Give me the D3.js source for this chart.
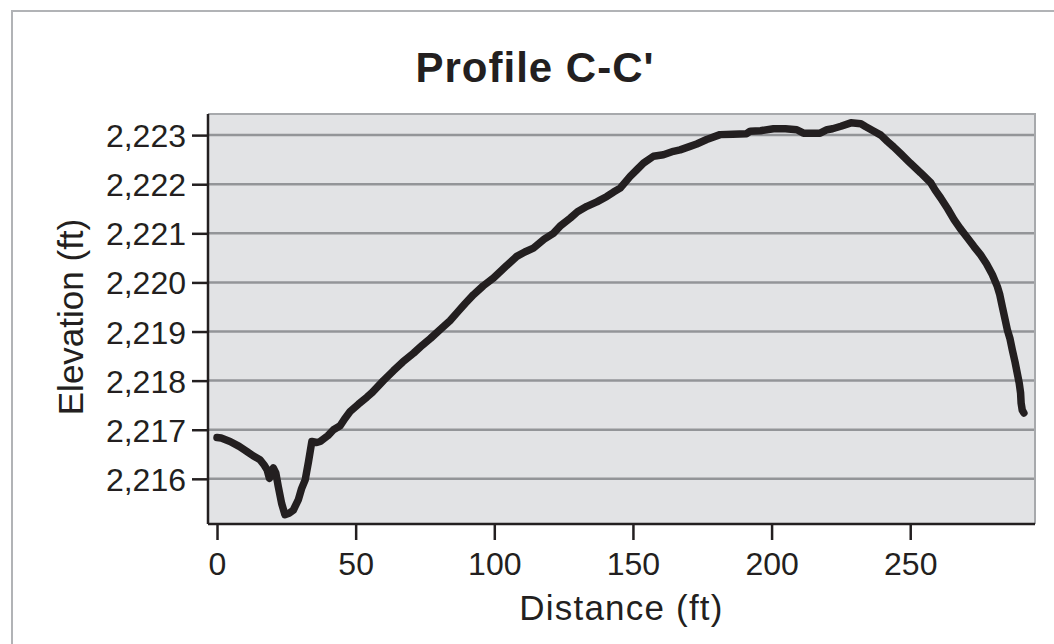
<!DOCTYPE html>
<html>
<head>
<meta charset="utf-8">
<script src="https://cdn.jsdelivr.net/npm/d3@7"></script>
<style>
  body { margin: 0; background: #fff; }
  text { font-family: "Liberation Sans", Arial, sans-serif; fill: #231f20; }
</style>
</head>
<body>
<svg id="chart" width="1054" height="644"></svg>
<script>
var title = "Profile C-C'";
var xLabel = "Distance (ft)";
var yLabel = "Elevation (ft)";

var xTicks = [0, 50, 100, 150, 200, 250];
var yTicks = [2216, 2217, 2218, 2219, 2220, 2221, 2222, 2223];

// profile, distance (ft) / elevation (ft)
var distance = [0, 1.5, 4.7, 8, 10.7, 13, 15.5, 17, 18.1, 18.9, 19.5, 20.3, 21.2, 22.1, 23.3, 24.5,
  26, 27.5, 29.3, 30.5, 31.8, 33, 34.2, 36, 37.2, 40, 42, 44.4, 46, 48, 51, 54, 56, 60, 63.6, 67,
  70.9, 74, 77, 80.5, 84, 86.5, 89.5, 92.5, 96, 99.7, 104, 108.1, 111, 114.1, 118, 121.3, 124,
  127.4, 130, 133.4, 137, 140.6, 143, 145.4, 149, 151.5, 153.8, 157.4, 161, 164.6, 167, 170.6,
  173, 176.6, 181.4, 186, 191, 192.3, 196, 200.7, 205, 209.1, 211.5, 214, 217.5, 220, 222, 225,
  228.6, 232.2, 234, 236.9, 239.4, 241.8, 244, 246.6, 250, 253.8, 257.4, 259, 261, 263.5, 265.8,
  268, 270.6, 273, 275.4, 277.5, 279.6, 281.4, 282.3, 283.2, 284.2, 285, 286, 286.8, 287.8,
  288.6, 289.3, 289.8, 290, 290.4, 291];
var elevation = [2216.84, 2216.83, 2216.76, 2216.66, 2216.56, 2216.47, 2216.39, 2216.28, 2216.18,
  2216.01, 2216.15, 2216.22, 2216.12, 2215.84, 2215.5, 2215.27, 2215.3, 2215.36, 2215.57, 2215.8,
  2215.98, 2216.35, 2216.76, 2216.74, 2216.76, 2216.88, 2217, 2217.08, 2217.22, 2217.37, 2217.52,
  2217.66, 2217.76, 2218, 2218.2, 2218.38, 2218.56, 2218.72, 2218.86, 2219.04, 2219.22, 2219.38,
  2219.57, 2219.75, 2219.93, 2220.09, 2220.32, 2220.53, 2220.62, 2220.7, 2220.88, 2221, 2221.16,
  2221.31, 2221.44, 2221.55, 2221.64, 2221.75, 2221.84, 2221.92, 2222.16, 2222.3, 2222.43, 2222.57,
  2222.6, 2222.67, 2222.7, 2222.77, 2222.82, 2222.91, 2223.01, 2223.02, 2223.03, 2223.08, 2223.09,
  2223.13, 2223.13, 2223.11, 2223.04, 2223.04, 2223.04, 2223.11, 2223.13, 2223.18, 2223.25, 2223.23,
  2223.17, 2223.08, 2223, 2222.87, 2222.76, 2222.62, 2222.43, 2222.23, 2222.03, 2221.88, 2221.72,
  2221.5, 2221.28, 2221.1, 2220.91, 2220.73, 2220.56, 2220.38, 2220.16, 2219.92, 2219.75, 2219.51,
  2219.25, 2219.04, 2218.85, 2218.63, 2218.38, 2218.15, 2217.95, 2217.75, 2217.54, 2217.4, 2217.34];

var svg = d3.select("#chart");
var plotLeft = 208, plotRight = 1035, plotTop = 114, plotBottom = 524;

var x = d3.scaleLinear().domain([-3.25, 295]).range([plotLeft, plotRight]);
var y = d3.scaleLinear().domain([2215.08, 2223.43]).range([plotBottom, plotTop]);

// outer frame
svg.append("rect")
  .attr("x", 12).attr("y", 11)
  .attr("width", 1060).attr("height", 660)
  .attr("fill", "none")
  .attr("stroke", "#b1b3b6")
  .attr("stroke-width", 2);

svg.append("text")
  .attr("x", 535).attr("y", 82)
  .attr("text-anchor", "middle")
  .style("font-size", "42px")
  .style("font-weight", "bold")
  .style("letter-spacing", "1px")
  .text(title);

// plot area
svg.append("rect")
  .attr("x", plotLeft).attr("y", plotTop)
  .attr("width", plotRight - plotLeft).attr("height", plotBottom - plotTop)
  .attr("fill", "#e2e3e5");

svg.append("g").selectAll("line").data(yTicks).enter().append("line")
  .attr("x1", plotLeft).attr("x2", plotRight)
  .attr("y1", function(d) { return y(d); })
  .attr("y2", function(d) { return y(d); })
  .attr("stroke", "#939598")
  .attr("stroke-width", 2.5);

// top and right border in grey
svg.append("path")
  .attr("d", "M" + plotLeft + "," + plotTop + "H" + plotRight + "V" + plotBottom)
  .attr("fill", "none")
  .attr("stroke", "#a7a9ac")
  .attr("stroke-width", 2);

var line = d3.line()
  .x(function(d, i) { return x(distance[i]); })
  .y(function(d, i) { return y(elevation[i]); });

svg.append("path")
  .datum(distance)
  .attr("d", line)
  .attr("fill", "none")
  .attr("stroke", "#231f20")
  .attr("stroke-width", 7.5)
  .attr("stroke-linejoin", "round")
  .attr("stroke-linecap", "round");

// axes
var xAxis = d3.axisBottom(x).tickValues(xTicks).tickSize(16).tickPadding(12).tickSizeOuter(0);
var yAxis = d3.axisLeft(y).tickValues(yTicks).tickSize(16).tickPadding(6).tickSizeOuter(0)
  .tickFormat(d3.format(","));

var gx = svg.append("g").attr("transform", "translate(0," + plotBottom + ")").call(xAxis);
var gy = svg.append("g").attr("transform", "translate(" + plotLeft + ",0)").call(yAxis);

// axis lines span the whole plot area
gx.select(".domain").attr("d", "M" + plotLeft + ",0H" + plotRight);
gy.select(".domain").attr("d", "M0," + plotTop + "V" + plotBottom);

[gx, gy].forEach(function(g) {
  g.select(".domain").attr("stroke", "#231f20").attr("stroke-width", 2.5);
  g.selectAll(".tick line").attr("stroke", "#231f20").attr("stroke-width", 2.5);
  g.selectAll(".tick text")
    .attr("fill", "#231f20")
    .style("font-family", "'Liberation Sans', Arial, sans-serif")
    .style("font-size", "32px");
});
gy.selectAll(".tick text").attr("dy", "0.36em");

svg.append("text")
  .attr("x", (plotLeft + plotRight) / 2).attr("y", 620)
  .attr("text-anchor", "middle")
  .style("font-size", "35px")
  .style("letter-spacing", "1.2px")
  .text(xLabel);

svg.append("text")
  .attr("transform", "translate(83,317) rotate(-90)")
  .attr("text-anchor", "middle")
  .style("font-size", "35px")
  .text(yLabel);
</script>
</body>
</html>
